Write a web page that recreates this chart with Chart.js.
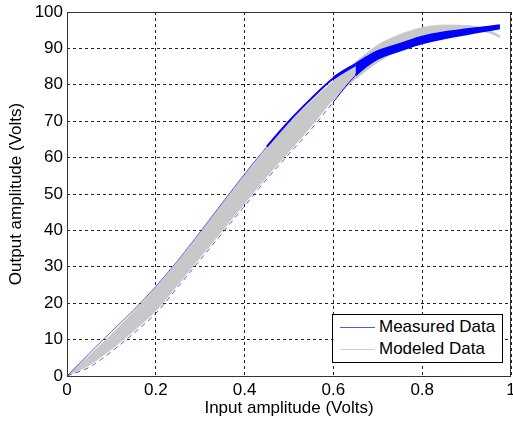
<!DOCTYPE html>
<html>
<head>
<meta charset="utf-8">
<script src="https://cdn.jsdelivr.net/npm/chart.js@4"></script>
<style>
  body { margin: 0; background: #fff; }
  #wrap { position: relative; width: 513px; height: 423px; }
  #legend {
    position: absolute; left: 332px; top: 314px; width: 169px; height: 47px;
    border: 1px solid #000; background: #fff;
    font: 17px "Liberation Sans", Arial, sans-serif; color: #000;
  }
  .row { position: absolute; left: 0; height: 20px; line-height: 20px; }
  .row span.ln { position: absolute; left: 7px; top: 10px; width: 35px; height: 0; border-top: 1px solid; }
  .row span.tx { position: absolute; left: 46px; top: 0; white-space: nowrap; }
</style>
</head>
<body>
<div id="wrap">
  <canvas id="chart" width="513" height="423"></canvas>
  <div id="legend">
    <div class="row" style="top:2px"><span class="ln" style="border-color:#5a5ad0"></span><span class="tx">Measured Data</span></div>
    <div class="row" style="top:24px"><span class="ln" style="border-color:#d0d0d0"></span><span class="tx">Modeled Data</span></div>
  </div>
</div>
<script>
// input amplitude samples (Volts)
const xs = [0, 0.05, 0.1, 0.15, 0.2, 0.25, 0.3, 0.35, 0.4, 0.45, 0.5, 0.55, 0.6, 0.65, 0.7, 0.75, 0.8, 0.85, 0.9, 0.95, 0.975];
// modeled data: upper and lower edge of the grey loop
const modeledUpper = [0, 5.6, 11.4, 17.6, 24.2, 31.4, 39.2, 47.3, 55.2, 62.6, 69.4, 75.5, 81, 86.2, 90.9, 93.8, 95.7, 96.4, 96.3, 95, 93.5];
const modeledLower = [0, 3, 7.4, 12.4, 17.9, 25.2, 32.6, 40, 47.4, 54.8, 61.7, 68.6, 76, 81.6, 86.2, 89.7, 93.2, 94.8, 95.2, 94.3, 93];
// measured data: upper and lower branch
const measuredUpper = [0, 6.2, 12.2, 18.1, 24.6, 31.8, 39.6, 47.6, 55.5, 63, 70, 76.2, 81.8, 85.6, 89.1, 91.1, 93.1, 94.3, 95.1, 95.8, 96.2];
const measuredLower = [0, 2.4, 6.7, 11.7, 17.2, 24.5, 31.9, 39.3, 46.7, 54.1, 61, 67.8, 75.3, 82.6, 87.2, 89.4, 91.4, 92.8, 93.9, 95, 95.5];

const xTicks = [0, 0.2, 0.4, 0.6, 0.8, 1];
const yTicks = [0, 10, 20, 30, 40, 50, 60, 70, 80, 90, 100];

const pts = (ys) => xs.map((x, i) => ({ x: x, y: ys[i] }));
const BLUE = '#0000ff';
const THIN = 'rgba(40,40,220,0.75)';
const GREY = '#c8c8c8';

Chart.defaults.font.family = '"Liberation Sans", Arial, sans-serif';
Chart.defaults.font.size = 17;
Chart.defaults.color = '#000';

const boxPlugin = {
  id: 'box',
  afterDraw(chart) {
    const { ctx, chartArea: a } = chart;
    ctx.save();
    ctx.strokeStyle = '#333';
    ctx.lineWidth = 1;
    ctx.strokeRect(Math.round(a.left) + 0.5, Math.round(a.top) + 0.5, Math.round(a.right - a.left) - 1, Math.round(a.bottom - a.top));
    ctx.restore();
  }
};

new Chart(document.getElementById('chart'), {
  type: 'line',
  data: {
    datasets: [
      {
        label: 'Measured Data',
        data: pts(measuredUpper),
        borderColor: BLUE,
        borderWidth: 1,
        backgroundColor: 'transparent',
        fill: '+1',
        segment: {
          borderWidth: (c) => (c.p0.parsed.x >= 0.6 ? 3 : c.p0.parsed.x >= 0.45 ? 2 : 1),
          borderColor: (c) => (c.p0.parsed.x >= 0.45 ? BLUE : THIN),
          backgroundColor: (c) => (c.p0.parsed.x >= 0.65 ? BLUE : 'transparent')
        }
      },
      {
        label: 'Measured lower',
        data: pts(measuredLower),
        borderColor: THIN,
        borderWidth: 1,
        fill: false,
        segment: {
          borderDash: (c) => (c.p0.parsed.x < 0.6 ? [5, 4] : []),
          borderWidth: (c) => (c.p0.parsed.x >= 0.65 ? 2 : 1),
          borderColor: (c) => (c.p0.parsed.x >= 0.6 ? BLUE : THIN)
        }
      },
      {
        label: 'Modeled Data',
        data: pts(modeledUpper),
        borderColor: GREY,
        backgroundColor: GREY,
        borderWidth: 1,
        fill: '+1'
      },
      {
        label: 'Modeled lower',
        data: pts(modeledLower),
        borderColor: GREY,
        borderWidth: 1,
        fill: false
      }
    ]
  },
  options: {
    responsive: false,
    animation: false,
    events: [],
    cubicInterpolationMode: 'monotone',
    elements: { point: { radius: 0 } },
    layout: { padding: { top: 12, right: 2, left: 0, bottom: 0 } },
    plugins: {
      legend: { display: false },
      tooltip: { enabled: false },
      filler: { drawTime: 'beforeDatasetDraw' }
    },
    scales: {
      x: {
        type: 'linear',
        min: 0,
        max: 1,
        afterBuildTicks: (s) => { s.ticks = xTicks.map((v) => ({ value: v })); },
        afterFit: (s) => { s.height = 47; s.paddingLeft = 0; s.paddingRight = 0; },
        ticks: { padding: 4, maxRotation: 0, callback: (v) => String(Math.round(v * 10) / 10) },
        grid: { color: '#222', drawTicks: false },
        border: { display: false, dash: [3, 3] },
        title: { display: true, text: 'Input amplitude (Volts)', padding: { top: 0, bottom: 4 } }
      },
      y: {
        min: 0,
        max: 100,
        afterBuildTicks: (s) => { s.ticks = yTicks.map((v) => ({ value: v })); },
        afterFit: (s) => { s.width = 67; s.paddingTop = 0; s.paddingBottom = 0; },
        ticks: { padding: 4 },
        grid: { color: '#222', drawTicks: false },
        border: { display: false, dash: [3, 3] },
        title: { display: true, text: 'Output amplitude (Volts)', padding: { top: 6, bottom: 0 } }
      }
    }
  },
  plugins: [boxPlugin]
});
</script>
</body>
</html>
